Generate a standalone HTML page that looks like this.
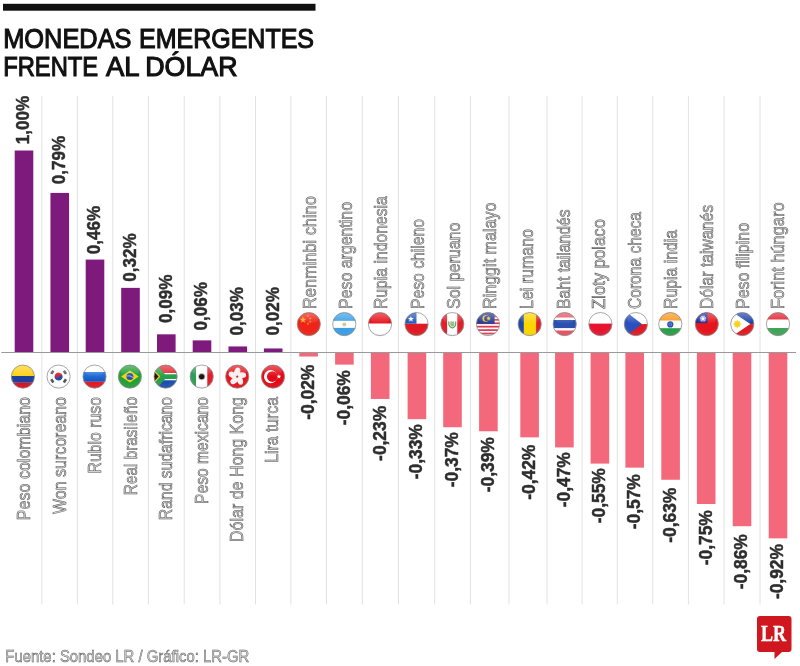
<!DOCTYPE html>
<html lang="es"><head><meta charset="utf-8"><title>Monedas emergentes frente al dólar</title>
<style>
html,body{margin:0;padding:0;background:#fff;}
body{width:800px;height:666px;overflow:hidden;position:relative;font-family:"Liberation Sans",sans-serif;}
svg{display:block;position:absolute;left:0;top:0;}
.ttl{font-family:"Liberation Sans",sans-serif;font-size:28px;fill:#111;stroke:#111;stroke-width:1.15px;}
.nm{font-family:"Liberation Sans",sans-serif;font-size:18px;fill:#d4d4d4;stroke:#505050;stroke-width:0.55px;}
.vl{font-family:"Liberation Sans",sans-serif;font-weight:bold;font-size:17.5px;fill:#2e2e2e;stroke:#2a2a2a;stroke-width:0.45px;}
.ft{font-family:"Liberation Sans",sans-serif;font-size:16.5px;fill:#d4d4d4;stroke:#555;stroke-width:0.5px;}
.lr{font-family:"Liberation Serif",serif;font-weight:bold;font-size:23.5px;fill:#fff;stroke:#fff;stroke-width:0.4px;}
</style></head><body>
<svg width="800" height="666" viewBox="0 0 800 666" style="filter:blur(0.4px)">
<defs>
<clipPath id="fc"><circle cx="0" cy="0" r="11.6"/></clipPath>
<radialGradient id="gl" cx="0.5" cy="0.35" r="0.75"><stop offset="0.6" stop-color="#fff" stop-opacity="0"/><stop offset="1" stop-color="#000" stop-opacity="0.22"/></radialGradient>
<linearGradient id="sh" x1="0" y1="0" x2="0" y2="1"><stop offset="0" stop-color="#fff" stop-opacity="0.32"/><stop offset="1" stop-color="#fff" stop-opacity="0"/></linearGradient>
<linearGradient id="rub" x1="0" y1="0" x2="0" y2="1"><stop offset="0" stop-color="#2f7fe0"/><stop offset="1" stop-color="#1450c0"/></linearGradient>
</defs>
<rect x="0" y="0" width="800" height="666" fill="#fff"/>
<rect x="3" y="3.8" width="312.5" height="6.9" fill="#111"/>
<text class="ttl" y="47.5"><tspan x="3.2" textLength="128.3" lengthAdjust="spacingAndGlyphs">MONEDAS</tspan> <tspan x="139.0" textLength="175.0" lengthAdjust="spacingAndGlyphs">EMERGENTES</tspan></text>
<text class="ttl" y="76"><tspan x="3.2" textLength="95.0" lengthAdjust="spacingAndGlyphs">FRENTE</tspan> <tspan x="106.0" textLength="32.5" lengthAdjust="spacingAndGlyphs">AL</tspan> <tspan x="145.3" textLength="92.2" lengthAdjust="spacingAndGlyphs">DÓLAR</tspan></text>
<g stroke="#e2e2e2" stroke-width="1">
<line x1="41.9" y1="96" x2="41.9" y2="604.5"/>
<line x1="77.4" y1="96" x2="77.4" y2="604.5"/>
<line x1="112.8" y1="96" x2="112.8" y2="604.5"/>
<line x1="148.4" y1="96" x2="148.4" y2="604.5"/>
<line x1="184.2" y1="96" x2="184.2" y2="604.5"/>
<line x1="219.9" y1="96" x2="219.9" y2="604.5"/>
<line x1="255.5" y1="96" x2="255.5" y2="604.5"/>
<line x1="290.9" y1="96" x2="290.9" y2="604.5"/>
<line x1="326.5" y1="96" x2="326.5" y2="604.5"/>
<line x1="362.3" y1="96" x2="362.3" y2="604.5"/>
<line x1="398.5" y1="96" x2="398.5" y2="604.5"/>
<line x1="434.7" y1="96" x2="434.7" y2="604.5"/>
<line x1="470.4" y1="96" x2="470.4" y2="604.5"/>
<line x1="509.0" y1="96" x2="509.0" y2="604.5"/>
<line x1="547.0" y1="96" x2="547.0" y2="604.5"/>
<line x1="582.1" y1="96" x2="582.1" y2="604.5"/>
<line x1="617.3" y1="96" x2="617.3" y2="604.5"/>
<line x1="652.7" y1="96" x2="652.7" y2="604.5"/>
<line x1="688.4" y1="96" x2="688.4" y2="604.5"/>
<line x1="724.1" y1="96" x2="724.1" y2="604.5"/>
<line x1="760.0" y1="96" x2="760.0" y2="604.5"/>
</g>
<rect x="14.70" y="150.50" width="18.6" height="202.00" fill="#7d1a7c"/>
<rect x="50.45" y="192.92" width="18.6" height="159.58" fill="#7d1a7c"/>
<rect x="85.70" y="259.58" width="18.6" height="92.92" fill="#7d1a7c"/>
<rect x="121.20" y="287.86" width="18.6" height="64.64" fill="#7d1a7c"/>
<rect x="157.00" y="334.32" width="18.6" height="18.18" fill="#7d1a7c"/>
<rect x="192.70" y="340.38" width="18.6" height="12.12" fill="#7d1a7c"/>
<rect x="228.50" y="346.44" width="18.6" height="6.06" fill="#7d1a7c"/>
<rect x="263.90" y="348.46" width="18.6" height="4.04" fill="#7d1a7c"/>
<rect x="299.30" y="352.50" width="18.6" height="4.04" fill="#f4687c"/>
<rect x="335.10" y="352.50" width="18.6" height="12.12" fill="#f4687c"/>
<rect x="370.90" y="352.50" width="18.6" height="46.46" fill="#f4687c"/>
<rect x="407.60" y="352.50" width="18.6" height="66.66" fill="#f4687c"/>
<rect x="443.20" y="352.50" width="18.6" height="74.74" fill="#f4687c"/>
<rect x="479.10" y="352.50" width="18.6" height="78.78" fill="#f4687c"/>
<rect x="520.30" y="352.50" width="18.6" height="84.84" fill="#f4687c"/>
<rect x="555.10" y="352.50" width="18.6" height="94.94" fill="#f4687c"/>
<rect x="590.60" y="352.50" width="18.6" height="111.10" fill="#f4687c"/>
<rect x="625.40" y="352.50" width="18.6" height="115.14" fill="#f4687c"/>
<rect x="661.30" y="352.50" width="18.6" height="127.26" fill="#f4687c"/>
<rect x="696.90" y="352.50" width="18.6" height="151.50" fill="#f4687c"/>
<rect x="732.70" y="352.50" width="18.6" height="173.72" fill="#f4687c"/>
<rect x="768.70" y="352.50" width="18.6" height="185.84" fill="#f4687c"/>
<line x1="1.3" y1="352.5" x2="796" y2="352.5" stroke="#9a9a9a" stroke-width="1"/>
<g transform="translate(22.9,376.6)"><g clip-path="url(#fc)"><rect x="-12" y="-12" width="24" height="11.4" fill="#fdd116"/><rect x="-12" y="-0.6" width="24" height="6.8" fill="#1f3f9c"/><rect x="-12" y="6.2" width="24" height="6" fill="#d8101f"/><circle r="12" fill="url(#gl)"/><ellipse cx="0" cy="-5.5" rx="9.5" ry="5.5" fill="url(#sh)"/></g><circle r="11.6" fill="none" stroke="#909090" stroke-width="0.8"/></g>
<g transform="translate(58.6,376.6)"><g clip-path="url(#fc)"><rect x="-12" y="-12" width="24" height="24" fill="#fff"/><g transform="rotate(20)"><path d="M-3.9,0 A3.9,3.9 0 0 1 3.9,0 Z" fill="#d8232f"/><path d="M-3.9,0 A3.9,3.9 0 0 0 3.9,0 Z" fill="#1f50b0"/><circle cx="-1.95" cy="0" r="1.95" fill="#d8232f"/><circle cx="1.95" cy="0" r="1.95" fill="#1f50b0"/></g><g fill="#555"><rect x="-1.9" y="-1.3" width="3.8" height="2.6" transform="translate(-6.3,-4.3) rotate(-56)"/><rect x="-1.9" y="-1.3" width="3.8" height="2.6" transform="translate(6.3,-4.3) rotate(56)"/><rect x="-1.9" y="-1.3" width="3.8" height="2.6" transform="translate(-6.3,4.3) rotate(56)"/><rect x="-1.9" y="-1.3" width="3.8" height="2.6" transform="translate(6.3,4.3) rotate(-56)"/></g><circle r="12" fill="url(#gl)"/><ellipse cx="0" cy="-5.5" rx="9.5" ry="5.5" fill="url(#sh)"/></g><circle r="11.6" fill="none" stroke="#909090" stroke-width="0.8"/></g>
<g transform="translate(94.5,376.6)"><g clip-path="url(#fc)"><rect x="-12" y="-12" width="24" height="7.4" fill="#fff"/><rect x="-12" y="-4.6" width="24" height="9.8" fill="url(#rub)"/><rect x="-12" y="5.2" width="24" height="7" fill="#e01a22"/><circle r="12" fill="url(#gl)"/><ellipse cx="0" cy="-5.5" rx="9.5" ry="5.5" fill="url(#sh)"/></g><circle r="11.6" fill="none" stroke="#909090" stroke-width="0.8"/></g>
<g transform="translate(129.9,376.6)"><g clip-path="url(#fc)"><rect x="-12" y="-12" width="24" height="24" fill="#21a038"/><polygon points="-8.8,0 0,-6 8.8,0 0,6" fill="#f3d21a"/><circle r="3.5" fill="#2450a8"/><path d="M-3.3,-0.6 Q0,-1.6 3.3,0.9" stroke="#dfe8f5" stroke-width="0.7" fill="none"/><circle r="12" fill="url(#gl)"/><ellipse cx="0" cy="-5.5" rx="9.5" ry="5.5" fill="url(#sh)"/></g><circle r="11.6" fill="none" stroke="#909090" stroke-width="0.8"/></g>
<g transform="translate(165.6,376.6)"><g clip-path="url(#fc)"><rect x="-12" y="-12" width="24" height="12" fill="#e3262e"/><rect x="-12" y="0" width="24" height="12" fill="#1f4fae"/><path d="M-12,-12 L-12,12 L-2.6,3.6 L12,3.6 L12,-3.6 L-2.6,-3.6 Z" fill="#fff"/><path d="M-12,-12 L-9,-12 L-0.5,-2.3 L12,-2.3 L12,2.3 L-0.5,2.3 L-9,12 L-12,12 Z" fill="#26a04a"/><path d="M-12,-7.2 L-5.2,0 L-12,7.2 Z" fill="#f6c223"/><path d="M-12,-5.2 L-7,0 L-12,5.2 Z" fill="#1a1a1a"/><circle r="12" fill="url(#gl)"/><ellipse cx="0" cy="-5.5" rx="9.5" ry="5.5" fill="url(#sh)"/></g><circle r="11.6" fill="none" stroke="#909090" stroke-width="0.8"/></g>
<g transform="translate(201.7,376.6)"><g clip-path="url(#fc)"><rect x="-12" y="-12" width="6.4" height="24" fill="#2f9e55"/><rect x="-5.6" y="-12" width="11.2" height="24" fill="#fff"/><rect x="5.6" y="-12" width="6.4" height="24" fill="#e01f2a"/><circle r="3.6" fill="#6a6a55" opacity=".45"/><circle r="2.7" fill="#1c1712"/><circle r="12" fill="url(#gl)"/><ellipse cx="0" cy="-5.5" rx="9.5" ry="5.5" fill="url(#sh)"/></g><circle r="11.6" fill="none" stroke="#909090" stroke-width="0.8"/></g>
<g transform="translate(237.2,376.6)"><g clip-path="url(#fc)"><rect x="-12" y="-12" width="24" height="24" fill="#e6141c"/><g fill="#fbeff0"><ellipse cx="0" cy="-4.9" rx="2.9" ry="4.3" transform="rotate(0) rotate(20 0 -4.9)"/><ellipse cx="0" cy="-4.9" rx="2.9" ry="4.3" transform="rotate(72) rotate(20 0 -4.9)"/><ellipse cx="0" cy="-4.9" rx="2.9" ry="4.3" transform="rotate(144) rotate(20 0 -4.9)"/><ellipse cx="0" cy="-4.9" rx="2.9" ry="4.3" transform="rotate(216) rotate(20 0 -4.9)"/><ellipse cx="0" cy="-4.9" rx="2.9" ry="4.3" transform="rotate(288) rotate(20 0 -4.9)"/></g><circle r="1.2" fill="#e6141c" opacity=".5"/><circle r="12" fill="url(#gl)"/><ellipse cx="0" cy="-5.5" rx="9.5" ry="5.5" fill="url(#sh)"/></g><circle r="11.6" fill="none" stroke="#909090" stroke-width="0.8"/></g>
<g transform="translate(273.0,376.6)"><g clip-path="url(#fc)"><rect x="-12" y="-12" width="24" height="24" fill="#e30a17"/><circle cx="-2.4" cy="0" r="6.6" fill="#fff"/><circle cx="-0.7" cy="0" r="5.3" fill="#e30a17"/><polygon points="5.90,-2.60 6.48,-0.80 8.37,-0.80 6.84,0.31 7.43,2.10 5.90,0.99 4.37,2.10 4.96,0.31 3.43,-0.80 5.32,-0.80" fill="#fff"/><circle r="12" fill="url(#gl)"/><ellipse cx="0" cy="-5.5" rx="9.5" ry="5.5" fill="url(#sh)"/></g><circle r="11.6" fill="none" stroke="#909090" stroke-width="0.8"/></g>
<g transform="translate(308.8,324.1)"><g clip-path="url(#fc)"><rect x="-12" y="-12" width="24" height="24" fill="#ee2418"/><polygon points="-5.80,-7.70 -5.01,-5.28 -2.47,-5.28 -4.53,-3.79 -3.74,-1.37 -5.80,-2.86 -7.86,-1.37 -7.07,-3.79 -9.13,-5.28 -6.59,-5.28" fill="#f7b21d"/><polygon points="-0.90,-9.25 -0.62,-8.39 0.29,-8.39 -0.45,-7.85 -0.17,-6.99 -0.90,-7.52 -1.63,-6.99 -1.35,-7.85 -2.09,-8.39 -1.18,-8.39" fill="#f7b21d"/><polygon points="1.40,-6.85 1.68,-5.99 2.59,-5.99 1.85,-5.45 2.13,-4.59 1.40,-5.12 0.67,-4.59 0.95,-5.45 0.21,-5.99 1.12,-5.99" fill="#f7b21d"/><polygon points="1.40,-3.65 1.68,-2.79 2.59,-2.79 1.85,-2.25 2.13,-1.39 1.40,-1.92 0.67,-1.39 0.95,-2.25 0.21,-2.79 1.12,-2.79" fill="#f7b21d"/><polygon points="-0.90,-1.45 -0.62,-0.59 0.29,-0.59 -0.45,-0.05 -0.17,0.81 -0.90,0.28 -1.63,0.81 -1.35,-0.05 -2.09,-0.59 -1.18,-0.59" fill="#f7b21d"/><circle r="12" fill="url(#gl)"/><ellipse cx="0" cy="-5.5" rx="9.5" ry="5.5" fill="url(#sh)"/></g><circle r="11.6" fill="none" stroke="#909090" stroke-width="0.8"/></g>
<g transform="translate(344.3,324.1)"><g clip-path="url(#fc)"><rect x="-12" y="-12" width="24" height="8.8" fill="#3a9fe6"/><rect x="-12" y="-3.2" width="24" height="7" fill="#fff"/><rect x="-12" y="3.8" width="24" height="8.2" fill="#3a9fe6"/><circle cy="0.3" r="1.9" fill="#d9c58c"/><circle r="12" fill="url(#gl)"/><ellipse cx="0" cy="-5.5" rx="9.5" ry="5.5" fill="url(#sh)"/></g><circle r="11.6" fill="none" stroke="#909090" stroke-width="0.8"/></g>
<g transform="translate(380.0,324.1)"><g clip-path="url(#fc)"><rect x="-12" y="-12" width="24" height="11.6" fill="#e6141c"/><rect x="-12" y="-0.4" width="24" height="12.4" fill="#fff"/><circle r="12" fill="url(#gl)"/><ellipse cx="0" cy="-5.5" rx="9.5" ry="5.5" fill="url(#sh)"/></g><circle r="11.6" fill="none" stroke="#909090" stroke-width="0.8"/></g>
<g transform="translate(416.5,324.1)"><g clip-path="url(#fc)"><rect x="-12" y="-12" width="24" height="11.6" fill="#fff"/><rect x="-12" y="-0.4" width="24" height="12.4" fill="#e01a22"/><rect x="-12" y="-12" width="12" height="11.6" fill="#2456b8"/><polygon points="-5.60,-8.20 -4.88,-5.99 -2.56,-5.99 -4.44,-4.62 -3.72,-2.41 -5.60,-3.78 -7.48,-2.41 -6.76,-4.62 -8.64,-5.99 -6.32,-5.99" fill="#fff"/><circle r="12" fill="url(#gl)"/><ellipse cx="0" cy="-5.5" rx="9.5" ry="5.5" fill="url(#sh)"/></g><circle r="11.6" fill="none" stroke="#909090" stroke-width="0.8"/></g>
<g transform="translate(452.3,324.1)"><g clip-path="url(#fc)"><rect x="-12" y="-12" width="7" height="24" fill="#e01f2a"/><rect x="-5" y="-12" width="10" height="24" fill="#fff"/><rect x="5" y="-12" width="7" height="24" fill="#e01f2a"/><path d="M-3.4,-2.8 Q-4.2,2.6 0,4.0 Q4.2,2.6 3.4,-2.8" fill="none" stroke="#4a9a4a" stroke-width="1.1"/><path d="M-2,-2.6 h4 v2.8 a2,2.4 0 0 1 -4,0 z" fill="#8fb89a"/><rect x="-2" y="-0.9" width="4" height="1" fill="#c9b76a"/><circle r="12" fill="url(#gl)"/><ellipse cx="0" cy="-5.5" rx="9.5" ry="5.5" fill="url(#sh)"/></g><circle r="11.6" fill="none" stroke="#909090" stroke-width="0.8"/></g>
<g transform="translate(488.0,324.1)"><g clip-path="url(#fc)"><rect x="-12" y="-12" width="24" height="24" fill="#fff"/><rect x="-12" y="-12.00" width="24" height="1.72" fill="#dc3a50"/><rect x="-12" y="-8.57" width="24" height="1.72" fill="#dc3a50"/><rect x="-12" y="-5.14" width="24" height="1.72" fill="#dc3a50"/><rect x="-12" y="-1.71" width="24" height="1.72" fill="#dc3a50"/><rect x="-12" y="1.72" width="24" height="1.72" fill="#dc3a50"/><rect x="-12" y="5.15" width="24" height="1.72" fill="#dc3a50"/><rect x="-12" y="8.58" width="24" height="1.72" fill="#dc3a50"/><rect x="-12" y="-12" width="18.6" height="11.7" fill="#233a94"/><circle cx="-2.2" cy="-5.6" r="3.3" fill="#f8cf1c"/><circle cx="-1.2" cy="-5.6" r="2.7" fill="#233a94"/><polygon points="0.60,-8.00 1.08,-6.59 2.48,-7.10 1.67,-5.84 2.94,-5.07 1.46,-4.91 1.64,-3.44 0.60,-4.50 -0.44,-3.44 -0.26,-4.91 -1.74,-5.07 -0.47,-5.84 -1.28,-7.10 0.12,-6.59" fill="#f8cf1c"/><circle r="12" fill="url(#gl)"/><ellipse cx="0" cy="-5.5" rx="9.5" ry="5.5" fill="url(#sh)"/></g><circle r="11.6" fill="none" stroke="#909090" stroke-width="0.8"/></g>
<g transform="translate(529.7,324.1)"><g clip-path="url(#fc)"><rect x="-12" y="-12" width="6.2" height="24" fill="#1f4aa0"/><rect x="-5.8" y="-12" width="12.2" height="24" fill="#fdd500"/><rect x="6.4" y="-12" width="5.6" height="24" fill="#df1f28"/><circle r="12" fill="url(#gl)"/><ellipse cx="0" cy="-5.5" rx="9.5" ry="5.5" fill="url(#sh)"/></g><circle r="11.6" fill="none" stroke="#909090" stroke-width="0.8"/></g>
<g transform="translate(564.7,324.1)"><g clip-path="url(#fc)"><rect x="-12" y="-12" width="24" height="24" fill="#e8505e"/><rect x="-12" y="-6.6" width="24" height="13.0" fill="#fff"/><rect x="-12" y="-4.1" width="24" height="8.1" fill="#2a4fb0"/><circle r="12" fill="url(#gl)"/><ellipse cx="0" cy="-5.5" rx="9.5" ry="5.5" fill="url(#sh)"/></g><circle r="11.6" fill="none" stroke="#909090" stroke-width="0.8"/></g>
<g transform="translate(600.4,324.1)"><g clip-path="url(#fc)"><rect x="-12" y="-12" width="24" height="11.5" fill="#fff"/><rect x="-12" y="-0.5" width="24" height="12.5" fill="#e6142e"/><circle r="12" fill="url(#gl)"/><ellipse cx="0" cy="-5.5" rx="9.5" ry="5.5" fill="url(#sh)"/></g><circle r="11.6" fill="none" stroke="#909090" stroke-width="0.8"/></g>
<g transform="translate(635.9,324.1)"><g clip-path="url(#fc)"><rect x="-12" y="-12" width="24" height="12" fill="#fff"/><rect x="-12" y="0" width="24" height="12" fill="#e01a22"/><polygon points="-12,-14 6,0 -12,14" fill="#2850be"/><circle r="12" fill="url(#gl)"/><ellipse cx="0" cy="-5.5" rx="9.5" ry="5.5" fill="url(#sh)"/></g><circle r="11.6" fill="none" stroke="#909090" stroke-width="0.8"/></g>
<g transform="translate(670.3,324.1)"><g clip-path="url(#fc)"><rect x="-12" y="-12" width="24" height="8.6" fill="#f7981d"/><rect x="-12" y="-3.4" width="24" height="7.5" fill="#fff"/><rect x="-12" y="4.1" width="24" height="7.9" fill="#2a9e48"/><circle cy="0.3" r="2.4" fill="#6f8fd6" stroke="#2850b0" stroke-width="1.4"/><circle cy="0.3" r="0.9" fill="#2850b0"/><circle r="12" fill="url(#gl)"/><ellipse cx="0" cy="-5.5" rx="9.5" ry="5.5" fill="url(#sh)"/></g><circle r="11.6" fill="none" stroke="#909090" stroke-width="0.8"/></g>
<g transform="translate(706.8,324.1)"><g clip-path="url(#fc)"><rect x="-12" y="-12" width="24" height="24" fill="#e6141c"/><rect x="-12" y="-12" width="12.7" height="11" fill="#1f2f9c"/><polygon points="-3.80,-9.00 -3.23,-7.53 -2.00,-8.52 -2.24,-6.96 -0.68,-7.20 -1.67,-5.97 -0.20,-5.40 -1.67,-4.83 -0.68,-3.60 -2.24,-3.84 -2.00,-2.28 -3.23,-3.27 -3.80,-1.80 -4.37,-3.27 -5.60,-2.28 -5.36,-3.84 -6.92,-3.60 -5.93,-4.83 -7.40,-5.40 -5.93,-5.97 -6.92,-7.20 -5.36,-6.96 -5.60,-8.52 -4.37,-7.53" fill="#fff"/><circle cx="-3.8" cy="-5.4" r="1.9" fill="#fff" stroke="#1f2f9c" stroke-width="0.45"/><circle r="12" fill="url(#gl)"/><ellipse cx="0" cy="-5.5" rx="9.5" ry="5.5" fill="url(#sh)"/></g><circle r="11.6" fill="none" stroke="#909090" stroke-width="0.8"/></g>
<g transform="translate(742.3,324.1)"><g clip-path="url(#fc)"><rect x="-12" y="-12" width="24" height="12" fill="#2245a8"/><rect x="-12" y="0" width="24" height="12" fill="#e01a22"/><polygon points="-12,-13.5 8,0 -12,13.5" fill="#fff"/><polygon points="-5.00,-4.30 -3.97,-2.49 -1.96,-3.04 -2.51,-1.03 -0.70,0.00 -2.51,1.03 -1.96,3.04 -3.97,2.49 -5.00,4.30 -6.03,2.49 -8.04,3.04 -7.49,1.03 -9.30,0.00 -7.49,-1.03 -8.04,-3.04 -6.03,-2.49" fill="#fbd11c"/><circle cx="-5" cy="0" r="2.7" fill="#fbd11c"/><circle r="12" fill="url(#gl)"/><ellipse cx="0" cy="-5.5" rx="9.5" ry="5.5" fill="url(#sh)"/></g><circle r="11.6" fill="none" stroke="#909090" stroke-width="0.8"/></g>
<g transform="translate(778.0,324.1)"><g clip-path="url(#fc)"><rect x="-12" y="-12" width="24" height="7.6" fill="#e01f2a"/><rect x="-12" y="-4.4" width="24" height="8.3" fill="#fff"/><rect x="-12" y="3.9" width="24" height="8.1" fill="#3fa556"/><circle r="12" fill="url(#gl)"/><ellipse cx="0" cy="-5.5" rx="9.5" ry="5.5" fill="url(#sh)"/></g><circle r="11.6" fill="none" stroke="#909090" stroke-width="0.8"/></g>
<text class="vl" transform="translate(29.3,144.2) rotate(-90)" textLength="48.5" lengthAdjust="spacingAndGlyphs">1,00%</text>
<text class="nm" text-anchor="end" transform="translate(29.8,397.0) rotate(-90)" textLength="123.2" lengthAdjust="spacingAndGlyphs">Peso colombiano</text>
<text class="vl" transform="translate(65.0,184.2) rotate(-90)" textLength="48.5" lengthAdjust="spacingAndGlyphs">0,79%</text>
<text class="nm" text-anchor="end" transform="translate(65.5,397.0) rotate(-90)" textLength="117.0" lengthAdjust="spacingAndGlyphs">Won surcoreano</text>
<text class="vl" transform="translate(100.3,254.2) rotate(-90)" textLength="48.5" lengthAdjust="spacingAndGlyphs">0,46%</text>
<text class="nm" text-anchor="end" transform="translate(101.2,397.0) rotate(-90)" textLength="76.5" lengthAdjust="spacingAndGlyphs">Rublo ruso</text>
<text class="vl" transform="translate(135.8,281.8) rotate(-90)" textLength="48.5" lengthAdjust="spacingAndGlyphs">0,32%</text>
<text class="nm" text-anchor="end" transform="translate(136.7,397.0) rotate(-90)" textLength="98.2" lengthAdjust="spacingAndGlyphs">Real brasileño</text>
<text class="vl" transform="translate(171.6,323.0) rotate(-90)" textLength="48.5" lengthAdjust="spacingAndGlyphs">0,09%</text>
<text class="nm" text-anchor="end" transform="translate(172.3,397.0) rotate(-90)" textLength="123.2" lengthAdjust="spacingAndGlyphs">Rand sudafricano</text>
<text class="vl" transform="translate(207.3,330.5) rotate(-90)" textLength="48.5" lengthAdjust="spacingAndGlyphs">0,06%</text>
<text class="nm" text-anchor="end" transform="translate(207.6,397.0) rotate(-90)" textLength="107.0" lengthAdjust="spacingAndGlyphs">Peso mexicano</text>
<text class="vl" transform="translate(243.1,335.5) rotate(-90)" textLength="48.5" lengthAdjust="spacingAndGlyphs">0,03%</text>
<text class="nm" text-anchor="end" transform="translate(243.4,397.0) rotate(-90)" textLength="145.0" lengthAdjust="spacingAndGlyphs">Dólar de Hong Kong</text>
<text class="vl" transform="translate(278.5,335.5) rotate(-90)" textLength="48.5" lengthAdjust="spacingAndGlyphs">0,02%</text>
<text class="nm" text-anchor="end" transform="translate(278.2,397.0) rotate(-90)" textLength="65.8" lengthAdjust="spacingAndGlyphs">Lira turca</text>
<text class="vl" text-anchor="end" transform="translate(313.9,364.7) rotate(-90)" textLength="55" lengthAdjust="spacingAndGlyphs">-0,02%</text>
<text class="nm" transform="translate(316.1,309.0) rotate(-90)" textLength="112.8" lengthAdjust="spacingAndGlyphs">Renminbi chino</text>
<text class="vl" text-anchor="end" transform="translate(349.7,370.2) rotate(-90)" textLength="55" lengthAdjust="spacingAndGlyphs">-0,06%</text>
<text class="nm" transform="translate(351.5,309.0) rotate(-90)" textLength="107.0" lengthAdjust="spacingAndGlyphs">Peso argentino</text>
<text class="vl" text-anchor="end" transform="translate(385.5,405.9) rotate(-90)" textLength="55" lengthAdjust="spacingAndGlyphs">-0,23%</text>
<text class="nm" transform="translate(387.1,309.0) rotate(-90)" textLength="112.8" lengthAdjust="spacingAndGlyphs">Rupia indonesia</text>
<text class="vl" text-anchor="end" transform="translate(422.2,424.2) rotate(-90)" textLength="55" lengthAdjust="spacingAndGlyphs">-0,33%</text>
<text class="nm" transform="translate(424.4,309.0) rotate(-90)" textLength="90.0" lengthAdjust="spacingAndGlyphs">Peso chileno</text>
<text class="vl" text-anchor="end" transform="translate(457.8,432.2) rotate(-90)" textLength="55" lengthAdjust="spacingAndGlyphs">-0,37%</text>
<text class="nm" transform="translate(459.5,309.0) rotate(-90)" textLength="86.5" lengthAdjust="spacingAndGlyphs">Sol peruano</text>
<text class="vl" text-anchor="end" transform="translate(493.7,437.2) rotate(-90)" textLength="55" lengthAdjust="spacingAndGlyphs">-0,39%</text>
<text class="nm" transform="translate(495.6,309.0) rotate(-90)" textLength="106.5" lengthAdjust="spacingAndGlyphs">Ringgit malayo</text>
<text class="vl" text-anchor="end" transform="translate(534.9,444.7) rotate(-90)" textLength="55" lengthAdjust="spacingAndGlyphs">-0,42%</text>
<text class="nm" transform="translate(532.7,309.0) rotate(-90)" textLength="80.0" lengthAdjust="spacingAndGlyphs">Lei rumano</text>
<text class="vl" text-anchor="end" transform="translate(569.7,452.2) rotate(-90)" textLength="55" lengthAdjust="spacingAndGlyphs">-0,47%</text>
<text class="nm" transform="translate(569.7,309.0) rotate(-90)" textLength="99.5" lengthAdjust="spacingAndGlyphs">Baht tailandés</text>
<text class="vl" text-anchor="end" transform="translate(605.2,468.2) rotate(-90)" textLength="55" lengthAdjust="spacingAndGlyphs">-0,55%</text>
<text class="nm" transform="translate(604.9,309.0) rotate(-90)" textLength="90.0" lengthAdjust="spacingAndGlyphs">Zloty polaco</text>
<text class="vl" text-anchor="end" transform="translate(640.0,474.2) rotate(-90)" textLength="55" lengthAdjust="spacingAndGlyphs">-0,57%</text>
<text class="nm" transform="translate(640.9,309.0) rotate(-90)" textLength="97.0" lengthAdjust="spacingAndGlyphs">Corona checa</text>
<text class="vl" text-anchor="end" transform="translate(675.9,487.7) rotate(-90)" textLength="55" lengthAdjust="spacingAndGlyphs">-0,63%</text>
<text class="nm" transform="translate(676.7,309.0) rotate(-90)" textLength="79.0" lengthAdjust="spacingAndGlyphs">Rupia india</text>
<text class="vl" text-anchor="end" transform="translate(711.5,510.2) rotate(-90)" textLength="55" lengthAdjust="spacingAndGlyphs">-0,75%</text>
<text class="nm" transform="translate(712.7,309.0) rotate(-90)" textLength="104.0" lengthAdjust="spacingAndGlyphs">Dólar taiwanés</text>
<text class="vl" text-anchor="end" transform="translate(747.3,534.2) rotate(-90)" textLength="55" lengthAdjust="spacingAndGlyphs">-0,86%</text>
<text class="nm" transform="translate(748.5,309.0) rotate(-90)" textLength="86.0" lengthAdjust="spacingAndGlyphs">Peso filipino</text>
<text class="vl" text-anchor="end" transform="translate(783.3,544.1) rotate(-90)" textLength="55" lengthAdjust="spacingAndGlyphs">-0,92%</text>
<text class="nm" transform="translate(783.9,309.0) rotate(-90)" textLength="106.5" lengthAdjust="spacingAndGlyphs">Forint húngaro</text>
<text class="ft" x="5.3" y="662" textLength="244" lengthAdjust="spacingAndGlyphs">Fuente: Sondeo LR / Gráfico: LR-GR</text>
<path d="M760,616 h28.5 a3,3 0 0 1 3,3 v30 a3,3 0 0 1 -3,3 h-6.5 l-7.5,7 v-7 h-14.5 a3,3 0 0 1 -3,-3 v-30 a3,3 0 0 1 3,-3 z" fill="#d0161e"/>
<text class="lr" x="773.6" y="641.2" text-anchor="middle" textLength="25" lengthAdjust="spacingAndGlyphs">LR</text>
</svg>
</body></html>
